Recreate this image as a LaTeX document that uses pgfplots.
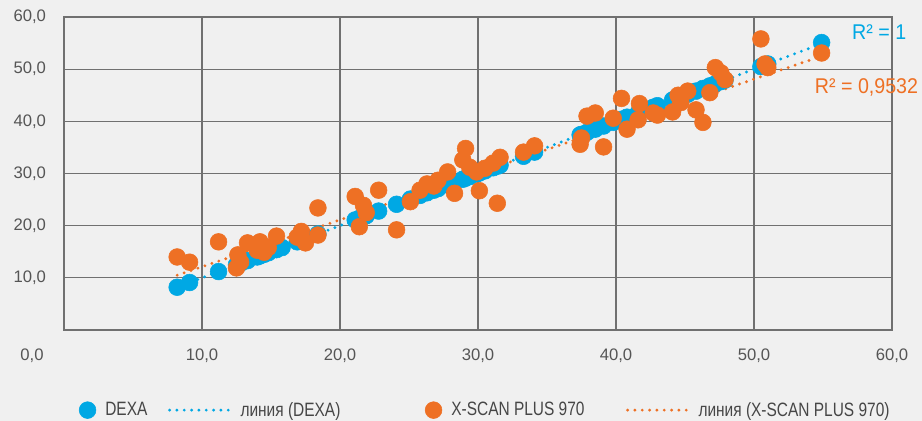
\documentclass[border=0pt]{standalone}
\usepackage{pgfplots}
\pgfplotsset{compat=1.18}
\usepackage{pgfplotstable}
\usepackage{fontspec}
\setmainfont{Liberation Sans}
\newfontfamily\cond[FakeStretch=0.8]{Liberation Sans}
\newfontfamily\rfont[FakeStretch=0.92]{Liberation Sans}
\definecolor{dexa}{RGB}{0,168,228}
\definecolor{xscan}{RGB}{238,112,36}
\definecolor{bg}{RGB}{240,240,240}
\definecolor{gridc}{RGB}{112,112,112}
\definecolor{txt}{RGB}{85,85,85}
\definecolor{txtl}{RGB}{70,70,70}

\pgfplotsset{
  markleg/.style={legend image code/.code={\draw[##1] plot coordinates {(0pt,0pt)};}},
  lineleg/.style={legend image code/.code={\draw[##1] (0pt,0pt) -- (45pt,0pt);}},
  dexamark/.style={only marks, mark=*, mark size=6.3pt, mark options={draw=dexa, fill=dexa}, markleg},
  xscanmark/.style={only marks, mark=*, mark size=6.3pt, mark options={draw=xscan, fill=xscan}, markleg},
}

\pgfplotstableread{
x y
8.2 8.2
9.1 9.1
11.2 11.2
12.5 12.5
12.6 12.6
12.8 12.8
13.3 13.3
14.0 14.0
14.2 14.2
14.5 14.5
14.8 14.8
15.4 15.4
15.8 15.8
16.9 16.9
17.2 17.2
17.5 17.5
18.4 18.4
21.1 21.1
21.4 21.4
21.7 21.7
21.9 21.9
22.8 22.8
24.1 24.1
25.1 25.1
25.8 25.8
26.3 26.3
26.8 26.8
27.1 27.1
27.8 27.8
28.3 28.3
28.9 28.9
29.1 29.1
29.4 29.4
29.9 29.9
30.1 30.1
30.5 30.5
31.1 31.1
31.4 31.4
31.6 31.6
33.3 33.3
34.1 34.1
37.4 37.4
37.5 37.5
37.9 37.9
38.5 38.5
39.1 39.1
39.8 39.8
40.4 40.4
40.8 40.8
41.6 41.6
41.7 41.7
42.7 42.7
43.0 43.0
44.1 44.1
44.5 44.5
44.7 44.7
45.2 45.2
45.8 45.8
46.3 46.3
46.8 46.8
47.2 47.2
47.6 47.6
47.9 47.9
50.5 50.5
50.8 50.8
51.0 51.0
54.9 55.1
}\dexadata

\pgfplotstableread{
x y
8.2 14.0
9.1 13.0
11.2 16.9
12.5 11.9
12.6 14.4
12.8 13.0
13.3 16.7
14.0 15.3
14.2 16.9
14.5 14.9
14.8 15.8
15.4 18.0
16.9 17.8
17.2 18.9
17.5 16.7
18.4 23.4
18.4 18.2
21.1 25.6
21.4 19.8
21.7 23.9
21.9 22.5
22.8 26.8
24.1 19.2
25.1 24.6
25.8 26.8
26.3 28.0
26.8 27.6
27.1 28.7
27.8 30.3
28.3 26.2
28.9 32.6
29.1 34.8
29.4 31.2
29.9 30.3
30.1 26.7
30.5 31.0
31.1 32.0
31.4 24.3
31.6 33.1
33.3 34.1
34.1 35.3
37.4 35.6
37.5 36.8
37.9 41.0
38.5 41.6
39.1 35.1
39.8 40.6
40.4 44.4
40.8 38.5
41.6 40.3
41.7 43.4
42.7 41.6
43.0 41.2
44.1 41.8
44.5 45.0
44.7 43.6
45.2 45.8
45.8 42.2
46.3 39.8
46.8 45.5
47.2 50.3
47.6 49.3
47.9 48.0
50.5 55.8
50.8 51.0
51.0 50.3
54.9 53.1
}\xscandata

\begin{document}
\begin{tikzpicture}
\fill[bg] (0pt,0pt) rectangle (691.5pt,315.75pt);
\path[use as bounding box] (0pt,0pt) rectangle (691.5pt,315.75pt);
\begin{axis}[
  at={(48pt,68.25pt)}, anchor=south west,
  scale only axis, width=621pt, height=234.75pt,
  xmin=0, xmax=60, ymin=0, ymax=60,
  xtick={10,20,...,60}, ytick={10,20,...,60},
  extra x ticks={0},
  extra x tick style={xticklabel style={xshift=-24pt}},
  grid=major,
  major grid style={gridc, line width=0.9pt},
  axis line style={gridc, line width=0.9pt},
  major tick length=0pt,
  tick label style={font=\fontsize{12.5}{14}\selectfont, text=txt},
  xticklabel style={anchor=base, yshift=-23pt},
  yticklabel style={anchor=east, xshift=-10pt},
  /pgf/number format/.cd, fixed, fixed zerofill, precision=1, use comma, assume math mode=true,
  /pgfplots/.cd,
  clip=false,
  legend columns=4,
  legend style={at={(0.018,-0.256)}, anchor=west, draw=none, fill=none,
    inner sep=0pt, column sep=0pt,
    font=\cond\fontsize{14.5}{16}\selectfont, text=txtl},
]
\addplot[dexamark] table[x=x, y=y] {\dexadata};
\addlegendentry{\makebox[50pt][l]{\hspace*{5pt}DEXA}}
\addplot[xscanmark, forget plot] table[x=x, y=y] {\xscandata};
\addplot[dexa, line width=2.4pt, line cap=round, dash pattern=on 0pt off 5.5pt, lineleg]
  coordinates {(8.2,8.2) (54.9,54.9)};
\addlegendentry{\makebox[141.5pt][l]{\hspace*{5pt}линия (DEXA)}}
\addlegendimage{xscanmark}
\addlegendentry{\makebox[134pt][l]{\hspace*{5pt}X-SCAN PLUS 970}}
\addplot[xscan, line width=2.4pt, line cap=round, dash pattern=on 0pt off 5.5pt, lineleg]
  coordinates {(8.2,10.5) (54.9,52.5)};
\addlegendentry{\hspace*{5pt}линия (X-SCAN PLUS 970)}
\node[anchor=base west, text=dexa, font=\rfont\fontsize{16}{18}\selectfont, inner sep=0pt]
  at (axis cs:57.1,55.6) {R² = 1};
\node[anchor=base west, text=xscan, font=\rfont\fontsize{16}{18}\selectfont, inner sep=0pt]
  at (axis cs:54.4,45.4) {R² = 0,9532};
\end{axis}
\end{tikzpicture}
\end{document}
